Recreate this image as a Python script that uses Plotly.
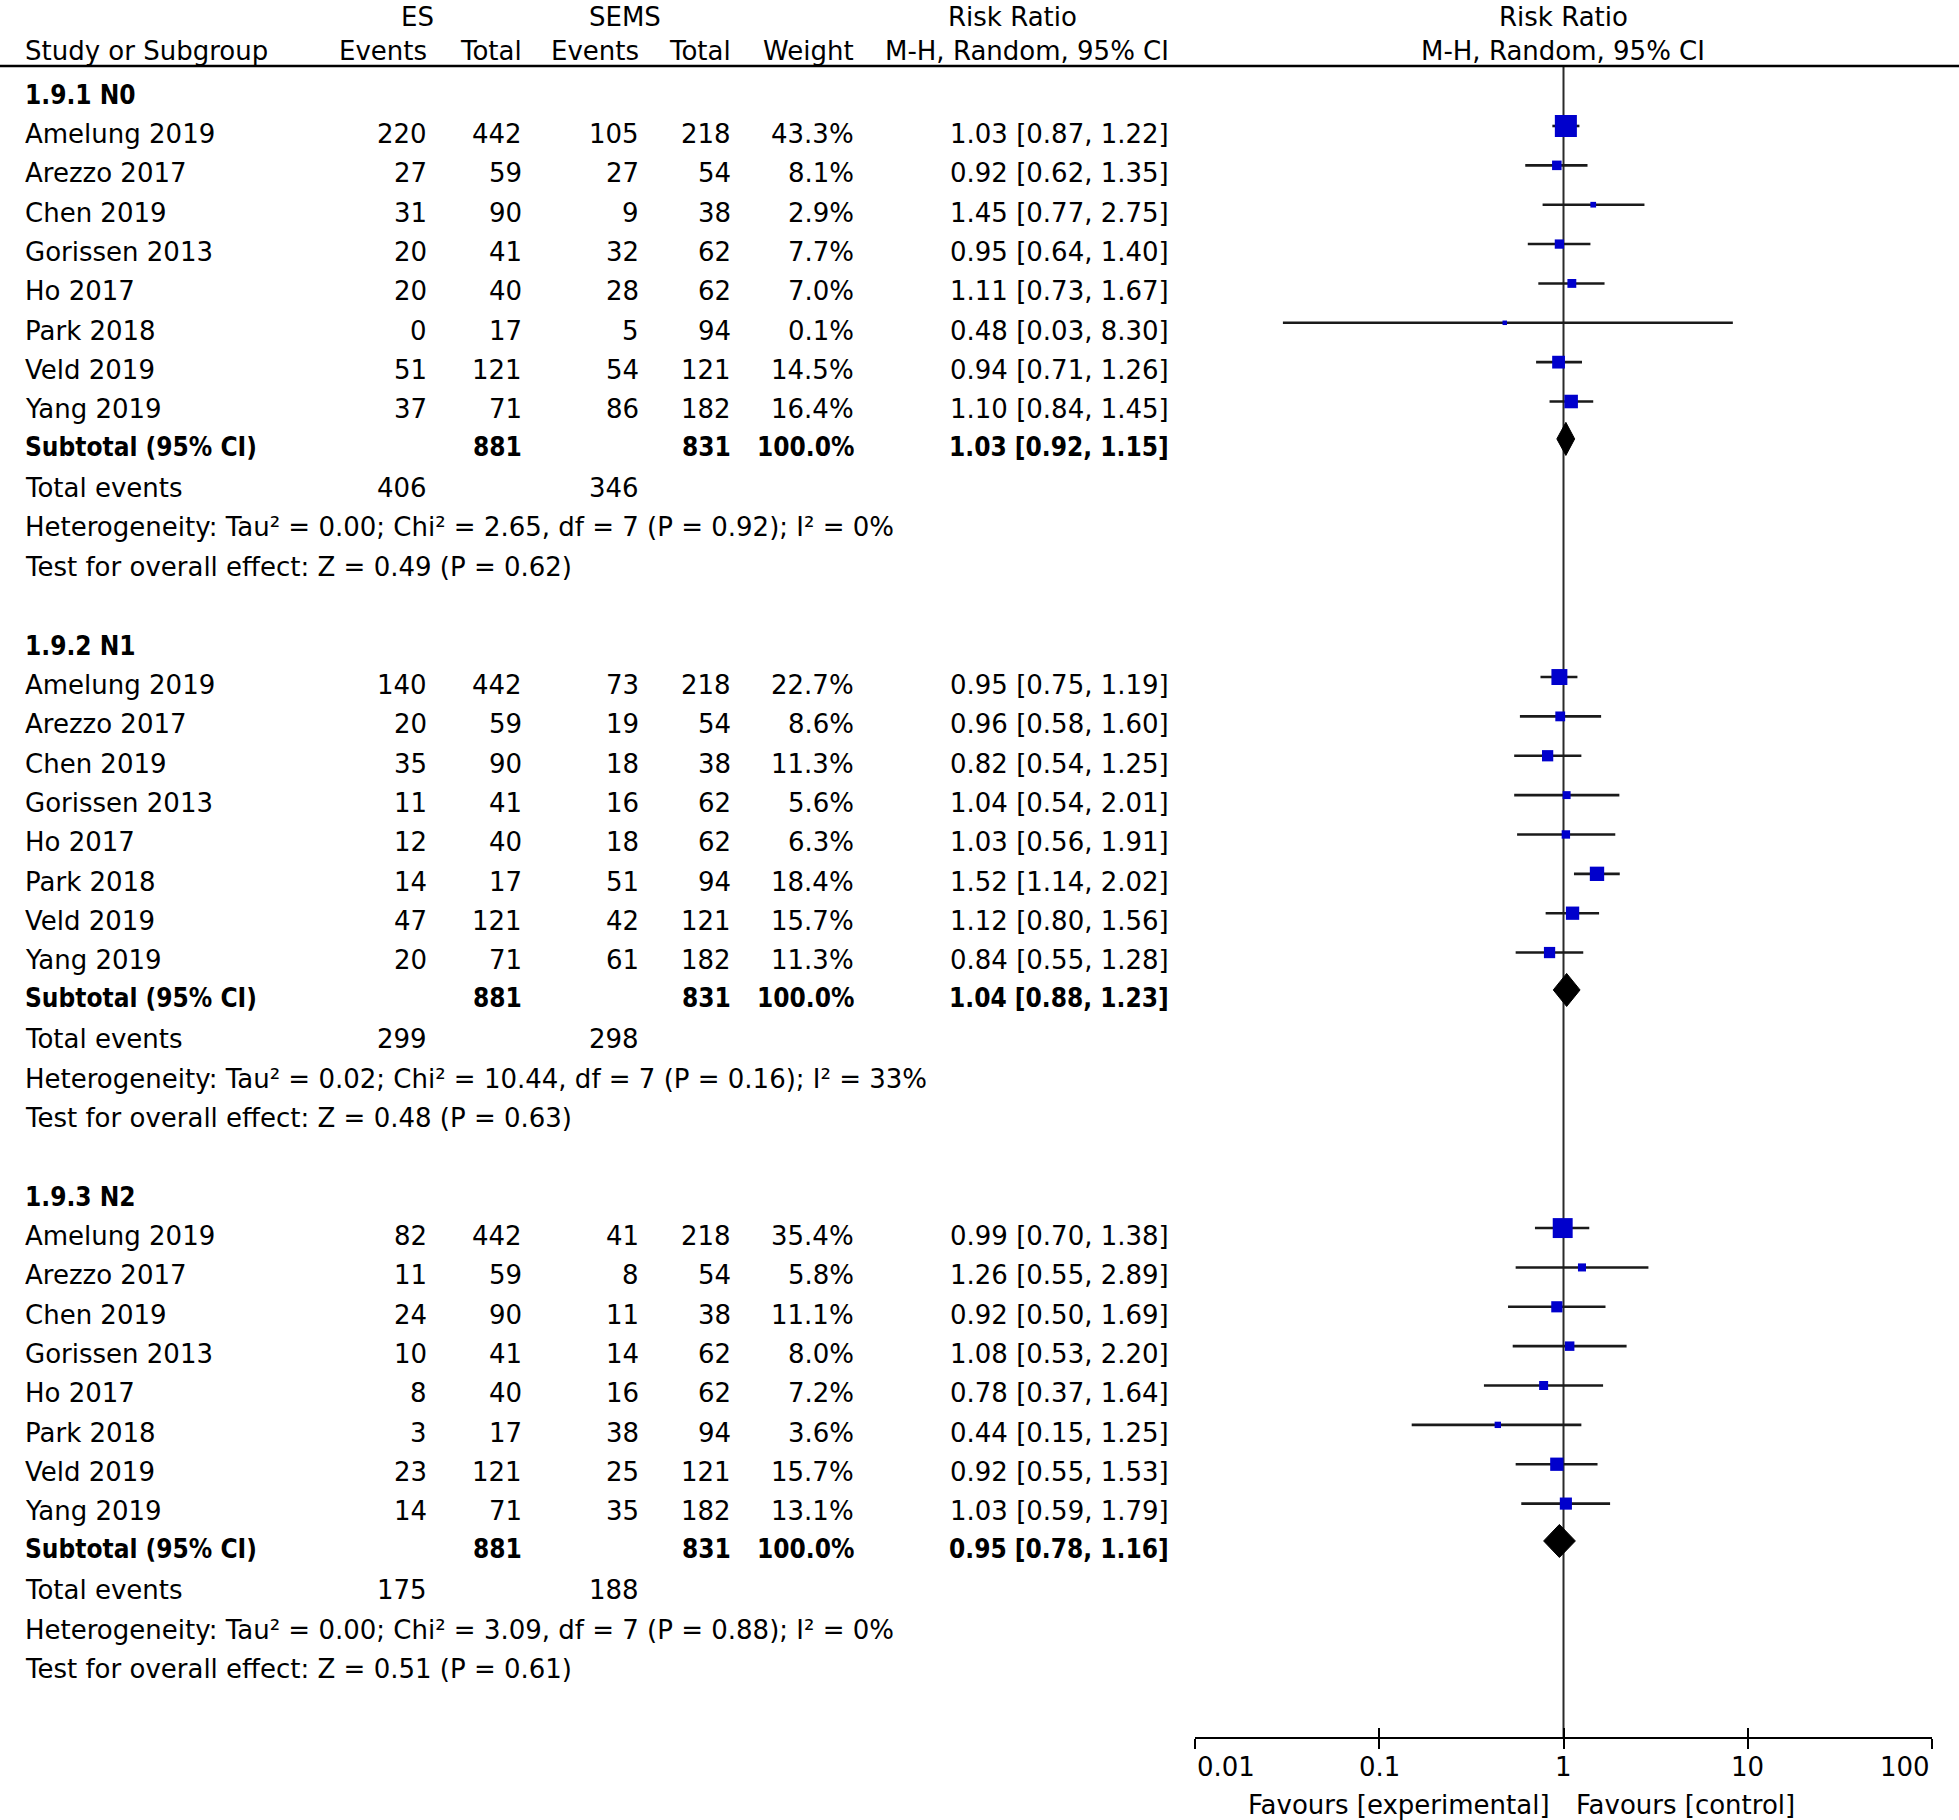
import numpy as np
import plotly.graph_objects as go

W, H = 1959, 1820
FONT = "DejaVu Sans, Verdana, sans-serif"
BOLD_FONT = "DejaVu Sans Condensed, DejaVu Sans, sans-serif"
FS = 26

# ---- data ----
subgroups = ["1.9.1 N0", "1.9.2 N1", "1.9.3 N2"]
studies = ["Amelung 2019", "Arezzo 2017", "Chen 2019", "Gorissen 2013",
           "Ho 2017", "Park 2018", "Veld 2019", "Yang 2019"]

es_total = [442, 59, 90, 41, 40, 17, 121, 71]
sems_total = [218, 54, 38, 62, 62, 94, 121, 182]

es_events = [[220, 27, 31, 20, 20, 0, 51, 37],
             [140, 20, 35, 11, 12, 14, 47, 20],
             [82, 11, 24, 10, 8, 3, 23, 14]]
sems_events = [[105, 27, 9, 32, 28, 5, 54, 86],
               [73, 19, 18, 16, 18, 51, 42, 61],
               [41, 8, 11, 14, 16, 38, 25, 35]]
weight = [[43.3, 8.1, 2.9, 7.7, 7.0, 0.1, 14.5, 16.4],
          [22.7, 8.6, 11.3, 5.6, 6.3, 18.4, 15.7, 11.3],
          [35.4, 5.8, 11.1, 8.0, 7.2, 3.6, 15.7, 13.1]]
rr = [[1.03, 0.92, 1.45, 0.95, 1.11, 0.48, 0.94, 1.10],
      [0.95, 0.96, 0.82, 1.04, 1.03, 1.52, 1.12, 0.84],
      [0.99, 1.26, 0.92, 1.08, 0.78, 0.44, 0.92, 1.03]]
rr_lo = [[0.87, 0.62, 0.77, 0.64, 0.73, 0.03, 0.71, 0.84],
         [0.75, 0.58, 0.54, 0.54, 0.56, 1.14, 0.80, 0.55],
         [0.70, 0.55, 0.50, 0.53, 0.37, 0.15, 0.55, 0.59]]
rr_hi = [[1.22, 1.35, 2.75, 1.40, 1.67, 8.30, 1.26, 1.45],
         [1.19, 1.60, 1.25, 2.01, 1.91, 2.02, 1.56, 1.28],
         [1.38, 2.89, 1.69, 2.20, 1.64, 1.25, 1.53, 1.79]]

sub_total_es = [881, 881, 881]
sub_total_sems = [831, 831, 831]
sub_weight = [100.0, 100.0, 100.0]
sub_rr = [1.03, 1.04, 0.95]
sub_lo = [0.92, 0.88, 0.78]
sub_hi = [1.15, 1.23, 1.16]
tot_es = [406, 299, 175]
tot_sems = [346, 298, 188]
heterogeneity = [
    "Heterogeneity: Tau² = 0.00; Chi² = 2.65, df = 7 (P = 0.92); I² = 0%",
    "Heterogeneity: Tau² = 0.02; Chi² = 10.44, df = 7 (P = 0.16); I² = 33%",
    "Heterogeneity: Tau² = 0.00; Chi² = 3.09, df = 7 (P = 0.88); I² = 0%",
]
overall = [
    "Test for overall effect: Z = 0.49 (P = 0.62)",
    "Test for overall effect: Z = 0.48 (P = 0.63)",
    "Test for overall effect: Z = 0.51 (P = 0.61)",
]
axis_ticks = [0.01, 0.1, 1, 10, 100]
axis_labels = ["0.01", "0.1", "1", "10", "100"]

# ---- layout in "row" units ----
Y0, PITCH = 94.5, 39.36        # pixel of row 0 and row pitch
def prow(px):
    return (px - Y0) / PITCH

SECTION = 14
RULE = prow(66)
AXIS = prow(1738)
MARK_OFF = -0.2                # symbols sit a little above the text line

# right edges of the table columns (px)
NAME_X = 23
COLS = [429, 524, 641, 733, 856, 1171]

fig = go.Figure()
ann = []


def txt(xpx, row, s, anchor="right", bold=False):
    ann.append(dict(x=xpx / W, xref="paper", y=row, yref="y", text=s,
                    showarrow=False, xanchor=anchor, yanchor="middle",
                    font=dict(family=BOLD_FONT if bold else FONT, size=FS,
                              color="black",
                              weight="bold" if bold else "normal")))


# header
top_row = prow(17)
txt(417, top_row, "ES", "center")
txt(625, top_row, "SEMS", "center")
txt(1012, top_row, "Risk Ratio", "center")
txt(1563, top_row, "Risk Ratio", "center")
hdr = ["Events", "Total", "Events", "Total", "Weight", "M-H, Random, 95% CI"]
txt(NAME_X, prow(51), "Study or Subgroup", "left")
for c, h in zip(COLS, hdr):
    txt(c, prow(51), h)
txt(1563, prow(51), "M-H, Random, 95% CI", "center")

# vertical line of no effect
fig.add_trace(go.Scatter(x=[1, 1], y=[RULE, AXIS], mode="lines",
                         line=dict(color="#2a2a2a", width=2),
                         hoverinfo="skip", showlegend=False))

for g in range(3):
    base = g * SECTION
    txt(NAME_X, base, subgroups[g], "left", bold=True)
    for i, name in enumerate(studies):
        r = base + 1 + i
        vals = [str(es_events[g][i]), str(es_total[i]), str(sems_events[g][i]),
                str(sems_total[i]), f"{weight[g][i]:.1f}%",
                f"{rr[g][i]:.2f} [{rr_lo[g][i]:.2f}, {rr_hi[g][i]:.2f}]"]
        txt(NAME_X, r, name, "left")
        for c, v in zip(COLS, vals):
            txt(c, r, v)
        fig.add_trace(go.Scatter(x=[rr_lo[g][i], rr_hi[g][i]], y=[r + MARK_OFF] * 2,
                                 mode="lines", line=dict(color="#1a1a1a", width=2.6),
                                 hoverinfo="skip", showlegend=False))
    rows = [base + 1 + i + MARK_OFF for i in range(len(studies))]
    fig.add_trace(go.Scatter(
        x=rr[g], y=rows, mode="markers",
        marker=dict(symbol="square", color="#0000cc", opacity=1,
                    size=[max(4.5, 3.35 * np.sqrt(w)) for w in weight[g]],
                    line=dict(width=0)),
        hoverinfo="skip", showlegend=False))

    rs = base + 8.95
    txt(NAME_X, rs, "Subtotal (95% CI)", "left", bold=True)
    sub_vals = [None, str(sub_total_es[g]), None, str(sub_total_sems[g]),
                f"{sub_weight[g]:.1f}%",
                f"{sub_rr[g]:.2f} [{sub_lo[g]:.2f}, {sub_hi[g]:.2f}]"]
    for c, v in zip(COLS, sub_vals):
        if v is not None:
            txt(c, rs, v, bold=True)
    dy = 0.42
    yc = rs + MARK_OFF
    fig.add_trace(go.Scatter(
        x=[sub_lo[g], sub_rr[g], sub_hi[g], sub_rr[g], sub_lo[g]],
        y=[yc, yc - dy, yc, yc + dy, yc], mode="lines", fill="toself",
        fillcolor="black", line=dict(color="black", width=1),
        hoverinfo="skip", showlegend=False))

    txt(NAME_X, base + 10, "Total events", "left")
    txt(COLS[0], base + 10, str(tot_es[g]))
    txt(COLS[2], base + 10, str(tot_sems[g]))
    txt(NAME_X, base + 11, heterogeneity[g], "left")
    txt(NAME_X, base + 12, overall[g], "left")

# tick labels on the log axis (ends pulled inward)
for k, (t, lab) in enumerate(zip(axis_ticks, axis_labels)):
    anchor = "left" if k == 0 else ("right" if k == len(axis_ticks) - 1 else "center")
    ann.append(dict(x=np.log10(t), xref="x", y=prow(1767), yref="y", text=lab,
                    showarrow=False, xanchor=anchor, yanchor="middle",
                    font=dict(family=FONT, size=FS, color="black")))
txt(1552, prow(1805), "Favours [experimental]", "right")
txt(1574, prow(1805), "Favours [control]", "left")

# invisible trace so the second (inside-tick) axis gets drawn
fig.add_trace(go.Scatter(x=[1], y=[AXIS], xaxis="x2", mode="markers",
                         marker=dict(opacity=0), hoverinfo="skip", showlegend=False))

x_dom = [1195 / W, 1932 / W]
axis_pos = 1 - 1738 / H
common = dict(type="log", range=[-2, 2], domain=x_dom, anchor="free",
              position=axis_pos, tickvals=axis_ticks, showticklabels=False,
              showgrid=False, zeroline=False, ticklen=10, tickwidth=2,
              tickcolor="black", fixedrange=True)

fig.update_layout(
    width=W, height=H,
    margin=dict(l=0, r=0, t=0, b=0),
    paper_bgcolor="white", plot_bgcolor="white",
    xaxis=dict(**common, ticks="outside", showline=True, linecolor="black",
               linewidth=2),
    xaxis2=dict(**common, ticks="inside", showline=False, overlaying="x"),
    yaxis=dict(range=[prow(H), prow(0)], domain=[0, 1], visible=False,
               fixedrange=True),
    shapes=[dict(type="line", xref="paper", x0=0, x1=1, yref="y",
                 y0=RULE, y1=RULE, line=dict(color="black", width=2.5))],
    annotations=ann,
    showlegend=False,
)

# page body margin would push the figure 8px off the window
fig.write_html("out.html", config={"displayModeBar": False},
               post_script="document.body.style.margin='0';")
